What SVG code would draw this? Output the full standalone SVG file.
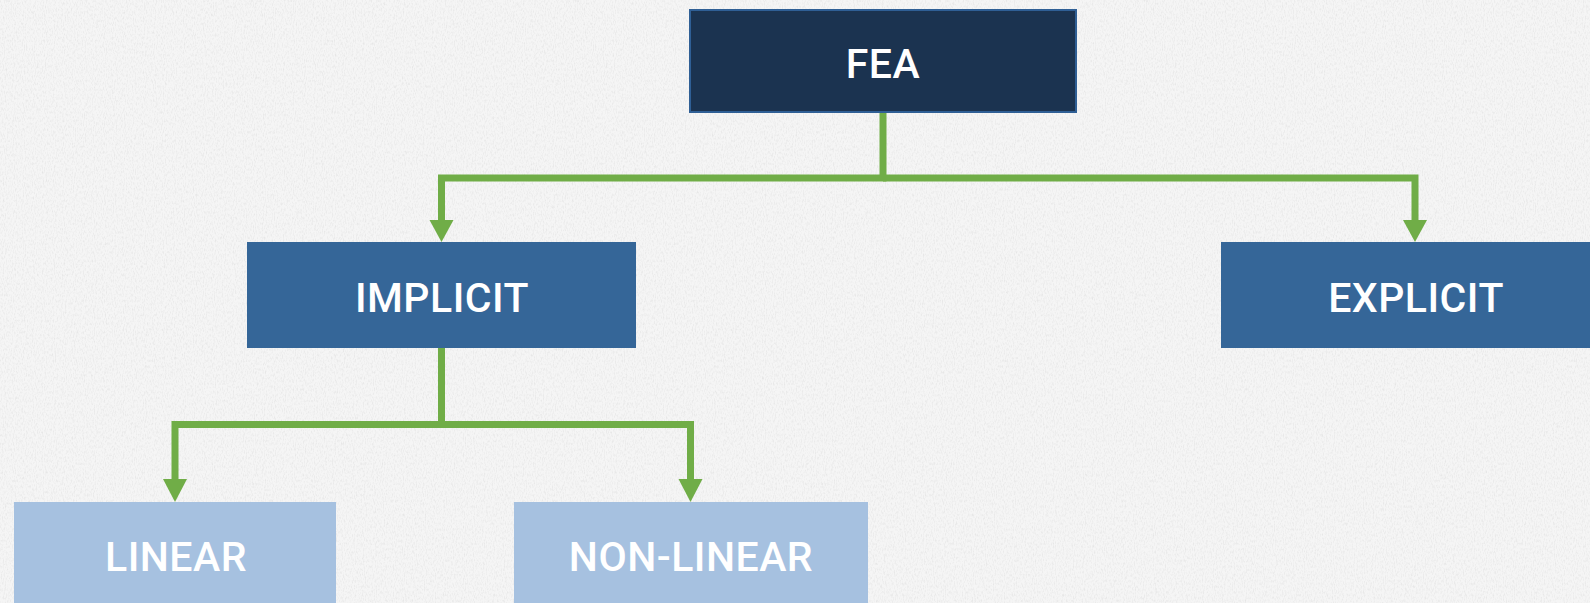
<svg xmlns="http://www.w3.org/2000/svg" width="1590" height="603" viewBox="0 0 1590 603">
  <defs>
    <style>
      .label { font-family: "Roboto", "Liberation Sans", sans-serif; font-size: 41px; font-weight: 500; fill: #ffffff; text-anchor: middle; letter-spacing: 0.5px; }
      .root { fill: #1b3350; stroke: #2f5f95; stroke-width: 2; }
      .mid { fill: #356698; }
      .leaf { fill: #a6c1e0; }
      .wire { fill: none; stroke: #70ad47; stroke-width: 7; stroke-linejoin: miter; }
      .head { fill: #70ad47; }
    </style>
    <filter id="grain" x="0" y="0" width="100%" height="100%">
      <feTurbulence type="fractalNoise" baseFrequency="0.9 0.35" numOctaves="2" seed="4" result="n"/>
      <feColorMatrix type="matrix" values="0 0 0 0 0.55  0 0 0 0 0.55  0 0 0 0 0.55  0 0 0 -1.6 0.9"/>
    </filter>
  </defs>

  <!-- paper background -->
  <rect width="1590" height="603" fill="#f5f5f5"/>
  <rect width="1590" height="603" filter="url(#grain)" opacity="0.4"/>

  <!-- connectors: elbow wires with solid triangular heads -->
  <g id="connectors">
    <polyline class="wire" points="883,113 883,178 441.5,178 441.5,222"/>
    <polygon class="head" points="429.5,220 453.5,220 441.5,242"/>
    <polyline class="wire" points="883,178 1415,178 1415,222"/>
    <polygon class="head" points="1403,220 1427,220 1415,242"/>
    <polyline class="wire" points="441.5,348 441.5,424.5 175,424.5 175,481"/>
    <polygon class="head" points="163,479 187,479 175,502"/>
    <polyline class="wire" points="441.5,424.5 690.5,424.5 690.5,481"/>
    <polygon class="head" points="678.5,479 702.5,479 690.5,502"/>
  </g>

  <!-- nodes -->
  <g id="node-fea">
    <rect class="root" x="690" y="10" width="386" height="102"/>
    <text class="label" x="883" y="78">FEA</text>
  </g>
  <g id="node-implicit">
    <rect class="mid" x="247" y="242" width="389" height="106"/>
    <text class="label" x="442" y="312">IMPLICIT</text>
  </g>
  <g id="node-explicit">
    <rect class="mid" x="1221" y="242" width="380" height="106"/>
    <text class="label" x="1416" y="312">EXPLICIT</text>
  </g>
  <g id="node-linear">
    <rect class="leaf" x="14" y="502" width="322" height="110"/>
    <text class="label" x="176" y="571">LINEAR</text>
  </g>
  <g id="node-nonlinear">
    <rect class="leaf" x="514" y="502" width="354" height="110"/>
    <text class="label" x="691" y="571">NON-LINEAR</text>
  </g>
</svg>
